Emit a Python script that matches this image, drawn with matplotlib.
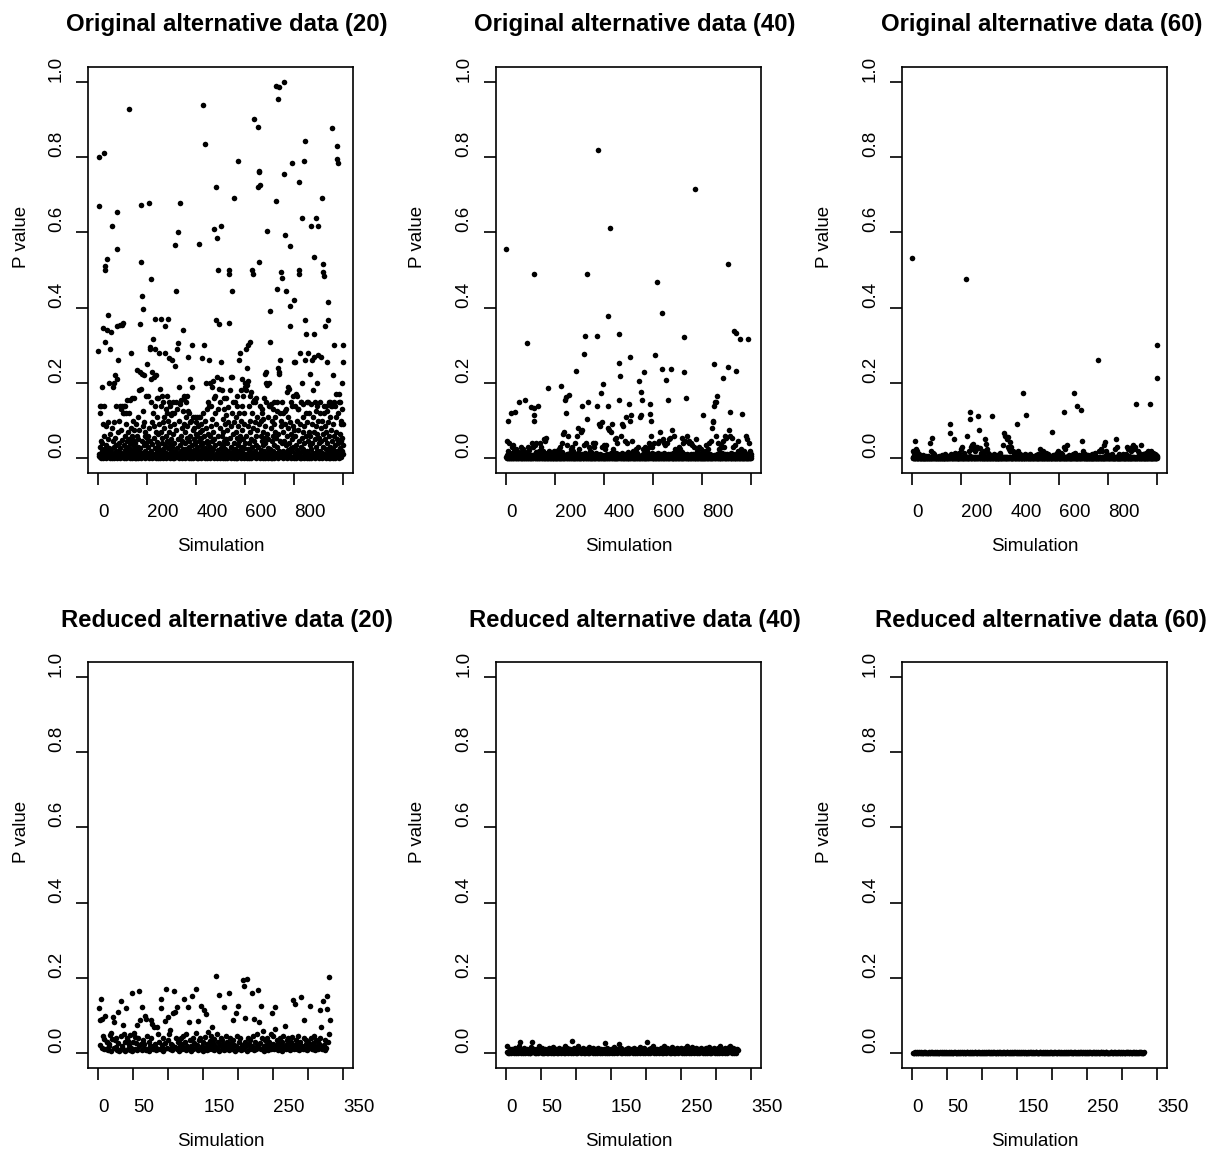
import numpy as np
import matplotlib
matplotlib.use("Agg")
import matplotlib.pyplot as plt

plt.rcParams['font.family'] = ['Liberation Sans', 'DejaVu Sans']

titles = ["Original alternative data (20)", "Original alternative data (40)",
          "Original alternative data (60)", "Reduced alternative data (20)",
          "Reduced alternative data (40)", "Reduced alternative data (60)"]
xlabel_text = "Simulation"
ylabel_text = "P value"
top_xticks = [0, 200, 400, 600, 800, 1000]
top_xticklabels = ["0", "200", "400", "600", "800", ""]
bottom_xticks = [0, 50, 100, 150, 200, 250, 300, 350]
bottom_xticklabels = ["0", "50", "", "150", "", "250", "", "350"]
yticks = [0.0, 0.2, 0.4, 0.6, 0.8, 1.0]
yticklabels = ["0.0", "0.2", "0.4", "0.6", "0.8", "1.0"]

# P values (in thousandths), one per simulation
orig20 = [
    285,12,800,670,5,140,30,2,120,45, 8,140,0,20,190,3,40,90,15,1, 345,25,60,4,140,810,510,500,10,310, 35,6,85,0,340,18,530,2,95,22, 50,380,7,28,200,3,12,290,65,1,
    4,25,335,10,0,80,618,15,3,45, 190,7,30,200,1,95,12,55,2,220, 20,8,140,35,0,210,350,655,555,260, 5,18,70,3,40,100,9,355,140,0, 27,130,14,6,75,140,355,2,48,120,
    11,360,3,140,35,0,120,60,8,140, 22,4,120,90,1,45,15,155,6,30, 70,2,18,928,50,120,9,0,25,155, 40,5,280,12,80,3,60,160,20,1, 35,100,7,48,160,14,2,75,28,0,
    6,40,12,0,90,22,3,60,235,8, 30,110,1,50,18,180,4,75,26,357, 230,10,520,185,0,672,45,225,15,430, 125,5,396,85,220,2,35,95,11,60, 0,20,70,7,165,40,3,250,14,55,
    9,30,165,2,60,677,15,0,80,290, 295,5,45,150,475,20,210,1,95,38, 230,7,120,317,12,215,55,3,85,370, 290,26,140,0,220,70,10,160,42,4, 110,18,65,1,160,33,6,280,90,14,
    0,185,22,8,70,370,3,140,40,12, 165,55,1,95,25,150,5,80,110,17, 2,280,350,35,130,0,60,15,165,120, 9,45,100,4,28,370,150,11,70,265, 0,38,140,6,85,20,115,2,50,260,
    7,120,30,1,150,65,13,0,90,120, 40,5,245,18,566,445,75,2,150,27, 9,290,130,602,50,305,3,190,15,100, 0,678,145,35,8,60,20,155,4,80, 11,45,1,125,340,25,6,90,14,160,
    3,165,40,10,70,0,150,25,5,110, 55,165,2,85,18,125,270,7,45,120, 0,30,95,12,210,60,4,20,100,1, 300,35,190,8,75,15,110,0,50,22, 3,80,110,9,40,2,65,17,95,5,
    12,60,0,110,30,4,85,20,1,110, 45,8,570,70,110,15,2,35,90,0, 55,10,265,25,75,938,3,40,120,7, 18,60,300,0,100,834,28,5,80,200, 14,45,1,130,22,65,9,150,38,3,
    20,140,260,5,60,0,200,30,12,140, 85,2,190,45,18,105,205,7,70,25, 0,160,609,50,165,9,120,35,3,366, 720,90,584,15,215,1,60,130,22,500, 6,185,40,357,10,80,150,0,28,210,
    255,618,14,60,2,180,35,0,105,18, 70,5,130,45,160,10,1,90,25,115, 50,3,160,12,75,0,40,135,8,20, 95,2,490,500,360,55,15,180,4,215, 30,85,0,215,120,445,10,65,6,150,
    20,0,95,40,690,7,150,25,3,70, 110,12,0,55,165,18,1,140,35,790, 85,5,260,45,10,120,280,2,60,22, 100,8,180,0,140,30,75,210,4,15, 165,50,1,120,27,90,9,190,40,200,
    3,180,60,290,12,240,0,195,85,25, 300,205,6,140,40,1,100,310,18,70, 165,9,50,0,175,30,120,4,500,490, 80,14,150,2,900,45,155,20,95,150, 7,60,0,160,35,110,11,75,3,720,
    30,880,5,90,520,763,760,15,140,725, 0,60,100,22,2,45,120,8,130,70, 1,35,105,12,160,55,3,20,85,225, 0,40,230,200,10,150,65,4,603,195, 28,110,0,50,140,7,200,18,310,390,
    140,25,0,80,6,145,45,12,100,1, 60,130,20,4,90,35,0,150,70,9, 110,15,55,990,683,2,125,450,30,150, 8,65,240,0,955,230,18,985,225,260, 45,5,120,85,100,11,495,480,40,3,
    150,20,0,70,120,1000,755,8,45,125, 2,594,90,15,444,130,35,5,175,60, 0,110,22,80,190,3,185,40,12,563, 405,350,95,7,150,28,0,65,140,18, 50,785,4,85,165,30,1,255,75,420,
    255,10,140,60,0,170,35,5,100,165, 22,2,130,75,130,14,45,500,490,735, 0,280,90,8,150,30,150,1,637,200, 55,18,110,4,70,145,25,0,85,790, 40,260,12,843,366,330,120,6,60,150,
    20,0,95,45,3,280,150,12,70,1, 120,35,8,225,60,0,145,25,618,90, 5,260,40,180,15,110,2,270,70,535, 330,10,150,50,0,125,637,30,85,200, 6,65,18,140,618,275,3,100,40,9,
    55,0,150,20,7,120,80,2,45,270, 690,15,100,0,65,30,515,495,485,120, 10,140,50,3,85,352,25,0,140,70, 255,12,125,40,5,415,366,95,18,1, 150,60,8,110,150,30,0,75,20,140,
    10,45,2,140,878,25,90,0,220,60, 5,150,300,15,140,35,1,110,70,8, 170,20,830,50,795,785,3,120,40,170, 12,0,150,65,150,28,6,100,45,90, 2,18,130,55,200,300,255,10,35,90,
]

orig40 = [
    555,3,0,8,45,1,12,20,0,100, 2,5,0,40,1,9,0,3,15,120, 0,4,1,7,30,0,2,11,0,35, 1,6,0,3,18,0,123,2,5,0, 8,25,1,0,4,13,20,0,2,6,
    0,3,10,149,1,5,0,2,14,30, 0,7,1,0,20,4,0,9,2,0, 12,25,1,3,0,6,16,0,2,154, 5,0,1,10,0,3,307,8,0,30, 2,0,11,4,22,0,1,6,0,3,
    0,135,4,1,40,0,9,2,0,30, 6,0,116,100,133,489,3,0,12,35, 1,0,5,17,40,0,2,8,0,3, 14,1,138,0,6,20,0,2,9,40, 0,4,1,11,30,0,3,7,0,18,
    2,0,6,1,50,0,10,3,0,45, 1,8,0,2,55,0,4,13,0,187, 5,1,0,9,20,0,2,6,0,12, 3,0,1,7,15,0,4,0,10,2, 0,5,1,0,20,8,0,3,11,0,
    1,6,0,3,20,0,9,1,0,14, 4,0,2,7,25,0,1,11,0,30, 3,0,193,5,1,0,16,2,0,40, 6,1,0,9,65,0,3,70,0,154, 2,8,0,120,4,163,0,12,35,1,
    0,5,1,10,60,0,3,169,0,7, 2,0,14,1,25,0,6,3,0,30, 9,0,1,4,18,0,2,8,0,40, 1,12,0,5,3,0,10,233,1,60, 0,6,2,0,80,13,0,25,4,1,
    0,8,2,0,70,1,5,0,140,11, 3,75,0,6,1,0,278,9,0,35, 2,0,14,326,1,0,40,4,0,489, 104,7,0,2,149,0,12,3,0,30, 5,0,1,8,20,0,2,16,0,4,
    0,6,1,0,40,3,11,0,2,30, 0,7,1,0,40,4,0,13,2,0, 326,5,140,0,9,819,1,0,6,90, 0,3,85,0,12,1,0,174,4,95, 0,8,2,30,0,198,5,0,35,1,
    3,0,9,1,25,0,5,2,0,35, 7,0,1,12,80,377,140,0,4,75, 1,0,612,8,0,2,15,70,0,3, 6,0,90,1,11,0,4,25,0,2, 9,0,1,7,50,0,3,55,0,13,
    0,5,1,0,40,8,0,2,11,331, 252,0,154,3,0,7,218,1,0,60, 4,0,14,2,90,0,6,85,1,0, 9,3,0,12,45,0,2,5,0,110, 1,0,8,3,40,0,16,1,0,6,
    2,0,145,7,100,0,1,268,4,116, 0,10,2,0,45,6,0,1,13,20, 0,3,8,0,15,1,0,5,11,25, 0,2,7,0,1,14,30,0,4,9, 0,2,204,0,110,6,1,0,116,176,
    3,0,8,1,155,0,5,12,0,25, 2,0,228,6,1,0,10,30,0,4, 1,0,15,3,20,0,7,0,2,11, 0,5,30,1,40,0,9,144,117,100, 2,0,60,4,0,13,30,1,0,6,
    0,3,10,1,40,0,6,2,0,273, 12,0,4,1,469,0,8,3,0,40, 1,14,0,5,45,0,2,9,0,70, 4,0,1,11,0,385,6,237,0,50, 2,0,13,1,40,0,7,35,0,3,
    209,0,5,1,40,0,9,2,0,12, 154,3,0,7,50,1,0,55,4,0, 10,2,237,0,6,1,0,75,3,0, 14,1,0,5,60,0,2,8,0,25, 1,0,11,4,0,6,20,0,2,15,
    0,5,1,0,30,9,0,2,13,25, 0,4,1,0,7,16,0,3,0,55, 1,40,0,6,321,228,0,11,2,45, 0,8,1,159,0,4,12,0,2,60, 0,6,1,0,40,9,0,45,3,0,
    2,0,10,1,40,0,5,3,0,35, 7,0,1,12,30,0,4,2,0,715, 6,0,1,9,50,0,3,14,0,20, 1,0,8,2,0,5,11,30,0,1, 4,0,7,0,25,2,0,13,1,0,
    3,0,9,1,116,0,5,2,0,20, 11,0,1,6,35,0,3,14,0,7, 1,0,4,10,25,0,2,8,0,40, 1,5,0,12,45,0,3,1,0,80, 6,0,95,2,0,100,9,249,138,0,
    1,149,4,0,60,149,7,0,2,164, 0,11,1,0,40,5,0,3,13,25, 0,1,8,0,35,2,0,6,15,30, 0,4,1,0,45,9,214,0,2,30, 6,0,1,12,60,0,3,55,0,7,
    0,10,2,0,515,242,1,5,0,75, 3,0,124,8,60,0,1,14,0,55, 2,0,6,1,30,0,11,3,0,337, 7,0,35,1,0,4,332,12,0,233, 2,0,9,1,45,0,5,20,0,3,
    0,8,1,0,316,4,0,13,2,25, 0,6,1,117,0,3,10,0,1,20, 0,5,2,0,15,7,0,1,11,60, 0,3,50,0,6,1,316,0,9,40, 2,0,4,12,20,0,1,10,5,0,
]

orig60 = [
    532,0,2,0,20,1,0,15,3,0, 1,46,0,4,25,0,2,20,0,1, 0,12,3,0,1,0,5,0,2,10, 0,1,0,3,0,6,0,1,0,2, 0,4,1,0,8,0,2,0,1,0,
    0,2,0,1,5,0,3,0,1,0, 4,0,2,0,1,6,0,2,0,1, 0,3,40,0,1,0,4,18,0,2, 1,0,55,3,15,0,1,0,5,10, 0,2,0,1,4,0,2,0,1,3,
    0,1,3,0,2,0,1,5,0,2, 0,1,0,4,0,2,1,0,3,8, 0,1,0,2,0,6,1,0,2,0, 1,0,4,0,10,1,0,2,0,3, 0,1,0,5,6,0,2,0,1,4,
    0,2,90,66,0,1,3,0,2,12, 0,1,4,0,2,0,1,6,0,52, 2,0,1,3,14,0,2,0,1,10, 0,4,0,2,1,0,5,0,1,15, 0,2,0,3,1,0,2,25,0,4,
    1,0,3,0,30,2,0,1,0,15, 4,0,1,0,2,6,0,1,0,3, 475,60,0,2,1,0,4,0,1,20, 0,2,0,5,1,123,104,0,2,30, 0,1,3,0,35,1,0,25,2,38,
    0,2,1,0,20,3,0,1,0,25, 2,0,1,4,30,0,2,111,0,1, 3,76,0,2,28,0,1,0,5,15, 0,2,0,1,3,0,2,0,1,10, 0,4,0,1,20,0,2,0,52,1,
    0,38,2,0,25,1,0,3,0,15, 1,0,2,0,10,4,0,1,0,2, 0,5,1,0,2,0,111,3,0,1, 0,2,0,4,12,0,1,0,3,0, 2,0,1,0,8,2,0,1,0,3,
    0,1,3,0,2,0,1,5,0,15, 2,0,1,0,4,0,2,1,0,35, 3,0,1,0,2,66,0,1,4,60, 0,2,0,1,50,0,3,0,1,30, 0,57,2,0,25,1,0,20,2,43,
    0,2,1,0,30,3,0,1,0,20, 2,0,1,4,15,0,2,0,1,12, 0,3,0,1,5,0,2,90,0,20, 1,0,2,0,4,1,0,2,0,10, 3,0,1,0,8,2,0,1,0,4,
    174,0,2,1,0,3,0,1,5,10, 0,2,0,1,116,0,4,0,2,8, 1,0,3,0,1,6,0,2,0,12, 1,0,3,0,2,1,0,4,0,6, 2,0,1,0,3,0,2,1,0,5,
    0,2,1,0,8,3,0,1,0,2, 4,0,1,0,10,2,0,3,1,25, 0,2,0,1,5,0,2,0,1,15, 0,3,0,1,20,0,2,1,0,12, 3,0,1,0,15,2,0,1,0,4,
    0,1,3,0,10,2,0,1,0,6, 2,0,4,1,0,2,0,1,69,3, 0,1,0,2,8,0,1,5,0,2, 1,0,3,0,12,1,0,2,0,15, 1,0,3,0,18,2,0,1,0,4,
    0,2,1,0,15,3,0,1,0,2, 0,10,1,0,4,2,123,0,1,30, 0,2,0,1,25,0,3,0,1,35, 2,0,1,0,5,0,2,1,0,8, 3,0,1,0,6,2,0,1,0,3,
    0,1,3,0,10,2,0,1,0,174, 2,0,1,4,15,0,2,0,1,3, 0,1,0,140,2,0,5,1,0,8, 2,0,1,0,3,0,2,1,0,128, 46,0,2,1,20,0,3,15,0,1,
    0,2,1,0,10,3,0,1,0,2, 0,4,1,0,8,2,0,1,0,3, 0,1,0,2,6,0,1,0,4,0, 2,0,1,0,10,3,0,1,0,12, 2,0,1,0,15,3,0,1,0,2,
    0,2,1,0,4,0,261,1,0,20, 2,0,1,0,3,0,2,1,0,25, 0,1,3,0,20,2,0,1,0,35, 2,0,1,0,5,43,0,1,2,18, 0,1,0,3,10,0,2,0,1,4,
    0,1,3,0,8,2,0,1,0,2, 0,4,1,0,10,2,0,1,0,3, 0,1,0,2,25,0,1,0,4,0, 52,2,0,1,30,0,3,0,1,0, 2,0,1,0,12,3,0,1,0,2,
    0,1,3,0,6,2,0,1,0,10, 2,0,1,0,4,0,2,1,0,12, 0,1,3,0,30,2,0,1,0,25, 0,2,1,0,5,0,1,0,3,20, 0,1,0,2,30,0,1,4,0,2,
    0,35,1,0,25,2,0,1,0,30, 3,0,144,1,0,2,0,1,4,20, 0,2,0,1,15,0,3,1,0,2, 0,1,35,0,2,0,1,5,0,10, 2,0,1,0,12,3,0,1,0,2,
    0,2,1,0,15,3,0,1,0,20, 2,0,1,0,10,2,0,1,0,144, 3,0,1,0,20,2,0,1,0,15, 4,0,1,0,12,2,0,1,0,10, 3,0,1,0,8,2,0,301,212,5,
]

red20 = [
    120,87,22,144,15,90,45,10,38,100, 12,30,30,8,25,20,48,6,55,38, 97,83,15,35,40,17,9,109,28,5,
    8,45,140,20,75,12,50,6,30,120, 40,10,33,22,8,48,15,5,160,30, 53,42,12,28,76,9,40,18,165,87,
    25,8,123,35,15,24,100,8,92,45, 12,30,5,20,40,87,78,10,18,70, 25,8,15,70,12,50,30,10,144,120,
    22,6,40,12,85,28,170,15,97,35, 50,10,62,25,8,22,108,165,17,109, 40,123,12,30,6,36,19,40,25,10,
    45,15,144,30,8,50,20,122,83,12, 35,5,18,153,40,10,28,15,55,170, 22,8,85,35,12,40,125,20,6,30,
    116,15,42,103,25,8,56,10,32,18, 45,71,12,28,8,38,20,205,50,15, 30,6,155,22,40,12,35,25,122,8,
    18,45,10,30,20,160,8,40,15,28, 12,87,35,22,6,106,18,45,10,125, 30,15,40,8,22,195,12,179,30,94,
    18,6,198,40,25,10,35,15,20,160, 45,8,92,30,12,50,20,167,83,15, 28,125,10,40,59,18,6,35,22,12,
    40,15,8,30,20,50,12,106,25,45, 10,64,122,18,35,8,28,15,40,12, 22,30,6,45,15,20,73,10,35,25,
    40,12,18,8,30,15,42,141,22,10, 132,35,12,25,45,8,18,30,15,149, 20,10,89,40,12,25,35,8,18,30,
    15,125,22,40,10,28,12,45,20,8, 35,15,30,12,25,40,116,70,18,10, 139,22,8,35,15,151,118,30,202,50,89,
]

red40 = [
    18,3,0,6,1,10,4,0,12,2, 7,0,15,3,1,8,0,5,20,30, 2,0,9,4,1,14,0,6,2,11, 0,3,8,1,0,16,5,30,2,10,
    0,7,1,12,3,0,9,20,2,5, 0,14,1,6,0,11,3,8,1,0, 13,2,6,0,10,4,1,16,0,7, 3,12,1,0,8,15,2,5,0,11,
    3,9,0,18,1,6,14,2,0,10, 4,12,1,32,7,0,13,3,9,1, 0,15,20,5,2,11,0,8,3,14, 1,6,0,12,4,9,1,16,0,5,
    10,2,7,0,13,3,1,11,6,0, 8,15,2,4,0,12,1,7,3,10, 0,28,5,1,14,9,0,6,2,12, 4,0,10,16,1,7,3,0,11,5,
    2,25,8,0,13,1,6,9,3,0, 12,4,1,15,7,0,10,2,5,11, 0,8,14,1,3,9,0,12,6,2, 16,0,4,10,1,7,13,3,0,9,
    30,5,1,11,8,0,14,2,6,18, 3,0,10,1,7,12,4,0,9,2, 13,6,1,0,11,20,3,8,0,14, 2,5,10,1,0,9,16,4,7,0,
    12,1,6,15,3,0,10,8,2,13, 0,5,11,1,7,14,0,3,20,9, 1,6,12,0,4,16,2,10,0,8, 13,3,1,11,5,0,9,15,2,6,
    0,12,4,1,14,7,0,10,3,16, 1,5,0,11,8,2,13,0,6,9, 1,15,4,0,20,2,10,7,0,12, 3,14,1,6,9,0,11,16,4,20,
    2,8,0,13,5,1,10,6,0,12,9,
]

red60 = [
    0,1,0,2,0,0,3,1,0,4,0,1,2,0,0,1,3,0,2,0, 1,0,0,3,1,0,2,0,4,1,0,0,2,1,0,3,0,1,0,2,
    0,3,1,0,0,2,0,4,1,0,1,0,2,0,3,0,1,0,0,2, 4,0,1,0,2,1,0,3,0,0,2,1,0,4,0,1,0,2,3,0,
    0,1,2,0,3,0,1,0,4,2,0,1,0,3,0,2,1,0,0,4, 1,0,3,0,2,0,1,4,0,2,0,3,1,0,2,0,4,1,0,0,
    2,0,1,3,0,4,0,1,2,0,3,0,0,1,4,2,0,1,0,3, 0,2,0,1,0,3,4,0,1,2,0,0,3,1,0,2,0,4,1,0,
    3,0,1,0,2,0,0,4,1,3,0,2,0,1,0,3,2,0,1,0, 0,4,2,0,1,0,3,0,2,1,0,0,4,0,1,3,0,2,0,1,
    1,0,3,2,0,0,1,4,0,2,0,1,3,0,0,2,1,0,4,0, 0,2,0,1,3,0,4,1,0,0,2,0,3,1,0,1,2,0,0,4,
    2,1,0,3,0,2,0,1,4,0,1,0,2,3,0,0,1,2,0,3, 0,3,1,0,2,0,1,0,4,2,0,3,0,1,0,2,4,0,1,0,
    1,0,2,4,0,1,0,3,0,2,1,0,0,3,2,0,1,4,0,0, 3,0,1,0,2,2,0,4,1,0,3,0,1,0,2,0,3,1,0,2,
    0,1,4,0,2,0,3,1,0,0,2,
]

W, H = 1208, 1153
fig = plt.figure(figsize=(W / 100, H / 100), dpi=100)
box_left = [88.3, 496.0, 902.3]
box_top = [66.7, 661.7]
bw, bh = 265.0, 406.6
ylab_x = [21.0, 418.0, 825.0]

panels = [(orig20, 0, 0), (orig40, 0, 1), (orig60, 0, 2),
          (red20, 1, 0), (red40, 1, 1), (red60, 1, 2)]

fs = 13.5
for (vals, r, c), title in zip(panels, titles):
    p = np.array(vals, dtype=float) / 1000.0
    sim = np.arange(1, len(p) + 1)
    ax = fig.add_axes([box_left[c] / W, 1 - (box_top[r] + bh) / H, bw / W, bh / H])
    ax.scatter(sim, p, s=16, c='black', marker='o', linewidths=0, zorder=3)
    if r == 0:
        ax.set_xlim(-39.96, 1039.96)
        ax.set_xticks(top_xticks)
        ax.set_xticklabels(top_xticklabels)
    else:
        ax.set_xlim(-14, 364)
        ax.set_xticks(bottom_xticks)
        ax.set_xticklabels(bottom_xticklabels)
    ax.set_ylim(-0.04, 1.04)
    ax.set_yticks(yticks)
    ax.set_yticklabels(yticklabels)
    for s in ax.spines.values():
        s.set_linewidth(1.2)
    ax.tick_params(axis='both', direction='out', length=8.4, width=1.2,
                   labelsize=fs, top=False, right=False)
    ax.tick_params(axis='x', pad=14)
    ax.tick_params(axis='y', pad=14.6)
    for lab in ax.get_xticklabels():
        lab.set_ha('left')
    for lab in ax.get_yticklabels():
        lab.set_rotation(90)
        lab.set_rotation_mode('anchor')
        lab.set_ha('left')
        lab.set_va('center')
    ax.text(139.0 / bw, 1 + 41.7 / bh, title, transform=ax.transAxes,
            ha='center', va='center', fontsize=17.2, fontweight='bold')
    ax.text(0.5, -73.4 / bh, xlabel_text, transform=ax.transAxes,
            ha='center', va='center', fontsize=fs)
    ax.text((ylab_x[c] - box_left[c]) / bw, 0.5 + 33 / bh, ylabel_text,
            transform=ax.transAxes, rotation=90, ha='center', va='center', fontsize=fs)

fig.savefig("out.png", dpi=100)
